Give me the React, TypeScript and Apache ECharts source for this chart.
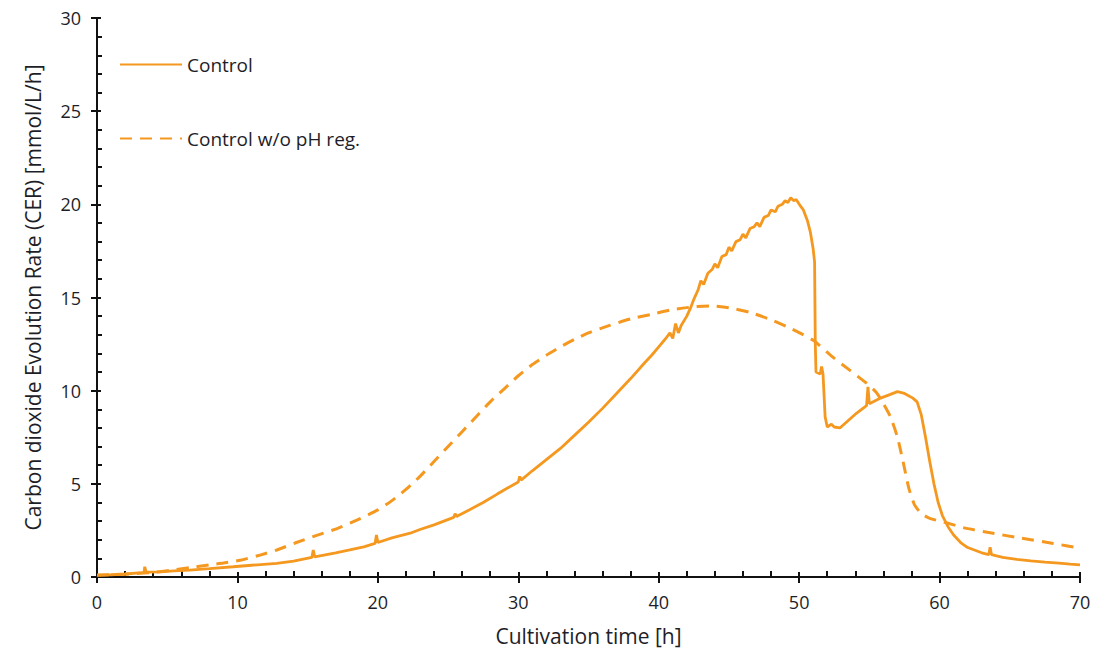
import React, { useEffect, useRef } from "react";
import * as echarts from "echarts";

const xTicks = [0, 10, 20, 30, 40, 50, 60, 70];
const yTicks = [0, 5, 10, 15, 20, 25, 30];

const controlName = "Control";
const noPhName = "Control w/o pH reg.";

// Control (solid) [time h, CER]
const controlData: [number, number][] = [
  [0, 0.1], [1, 0.12], [2, 0.16], [3, 0.22], [3.35, 0.24], [3.4, 0.55], [3.5, 0.26],
  [4.5, 0.28], [5.5, 0.33], [6.6, 0.37], [8, 0.45], [9.7, 0.55], [11, 0.63], [12.8, 0.73],
  [14, 0.85], [15.3, 1.05], [15.4, 1.45], [15.5, 1.08], [17, 1.3], [18, 1.45], [19, 1.62],
  [19.8, 1.8], [19.9, 2.25], [20, 1.85], [21, 2.1], [22.3, 2.35], [23, 2.55], [24, 2.8],
  [25.4, 3.2], [25.5, 3.4], [25.6, 3.25], [26.5, 3.6], [27.5, 4.0], [28.5, 4.45], [29.3, 4.8],
  [30, 5.1], [30.1, 5.4], [30.2, 5.2], [31, 5.7], [32, 6.3], [33, 6.9], [34, 7.6], [35, 8.3],
  [36, 9.05], [37, 9.85], [38, 10.65], [39, 11.5], [39.5, 11.9], [40, 12.35], [40.5, 12.8],
  [40.8, 13.1], [41.0, 12.8], [41.2, 13.6], [41.4, 13.1], [41.6, 13.5], [42, 14.0], [42.3, 14.5],
  [42.5, 14.9], [42.8, 15.4], [43, 15.9], [43.2, 15.7], [43.5, 16.3], [43.8, 16.5], [44, 16.8],
  [44.2, 16.6], [44.5, 17.2], [44.8, 17.3], [45, 17.7], [45.2, 17.5], [45.5, 18.0], [45.8, 18.1],
  [46, 18.4], [46.2, 18.2], [46.5, 18.7], [46.8, 18.8], [47, 19.0], [47.2, 18.8], [47.5, 19.3],
  [47.8, 19.4], [48, 19.7], [48.3, 19.6], [48.5, 19.9], [48.8, 20.0], [49, 20.2], [49.2, 20.1],
  [49.4, 20.35], [49.6, 20.2], [49.8, 20.25], [50.1, 19.9], [50.3, 19.7], [50.6, 19.1],
  [50.8, 18.5], [51.0, 17.6], [51.1, 16.9], [51.15, 12.5], [51.2, 11.0], [51.5, 10.9],
  [51.6, 11.3], [51.7, 10.9], [51.85, 8.6], [52, 8.05], [52.3, 8.2], [52.5, 8.05], [52.9, 8.0],
  [53.5, 8.4], [54.1, 8.8], [54.8, 9.2], [54.9, 10.2], [55.0, 9.3], [55.8, 9.6], [56.5, 9.8],
  [57, 9.95], [57.5, 9.85], [58.1, 9.6], [58.4, 9.4], [58.7, 8.7], [59.0, 7.5], [59.3, 6.2],
  [59.6, 5.0], [59.9, 4.0], [60.2, 3.3], [60.6, 2.7], [61, 2.25], [61.5, 1.85], [62, 1.58],
  [63, 1.3], [63.5, 1.2], [63.6, 1.6], [63.7, 1.2], [64.5, 1.05], [65.5, 0.95], [66.5, 0.87],
  [67.5, 0.8], [68.5, 0.74], [69.3, 0.69], [70, 0.65],
];

// Control w/o pH regulation (dashed)
const noPhData: [number, number][] = [
  [0, 0.1], [2, 0.15], [4, 0.25], [5.5, 0.38], [6.6, 0.5], [8, 0.65], [9, 0.75], [10.2, 0.9],
  [11.5, 1.15], [12.8, 1.45], [14.2, 1.85], [15.7, 2.25], [17.1, 2.6], [18.5, 3.05], [20, 3.6],
  [21, 4.1], [22, 4.7], [23, 5.4], [24, 6.2], [25, 7.0], [26, 7.8], [27, 8.6], [28, 9.4],
  [29, 10.1], [30, 10.8], [31, 11.4], [32, 11.9], [33, 12.35], [34, 12.75], [35, 13.1],
  [36.5, 13.5], [38, 13.85], [39.5, 14.1], [41, 14.35], [42.5, 14.5], [43.7, 14.55],
  [45, 14.45], [46.5, 14.2], [48, 13.8], [49.5, 13.3], [51, 12.7], [52.4, 11.8], [53.6, 11.1],
  [54.8, 10.4], [55.5, 9.9], [56, 9.3], [56.5, 8.6], [57, 7.5], [57.4, 6.2], [57.8, 4.8],
  [58.2, 3.9], [58.7, 3.4], [59.3, 3.15], [60.3, 2.95], [61.7, 2.65], [63.4, 2.4],
  [65.7, 2.1], [68.1, 1.8], [70, 1.55],
];

const ORANGE = "#F5981F";
const FONT = "Open Sans";
const TEXT = "#1e1e28";

export default function App() {
  const ref = useRef<HTMLDivElement>(null);
  useEffect(() => {
    if (!ref.current) return;
    const chart = echarts.init(ref.current, undefined, { renderer: "svg" });
    const xMin = xTicks[0];
    const xMax = xTicks[xTicks.length - 1];
    const yMin = yTicks[0];
    const yMax = yTicks[yTicks.length - 1];
    const xInt = xTicks[1] - xTicks[0];
    const yInt = yTicks[1] - yTicks[0];
    const axisLine = { show: true, lineStyle: { color: "#111", width: 2 } };
    const legendBase = {
      left: 114,
      itemWidth: 62,
      itemHeight: 16,
      itemGap: 8,
      itemStyle: { opacity: 0 },
      textStyle: { fontSize: 19, color: TEXT, fontFamily: FONT },
    };
    chart.setOption({
      animation: false,
      backgroundColor: "#fff",
      textStyle: { fontFamily: FONT },
      grid: { left: 97, right: 22, top: 18, bottom: 82, containLabel: false },
      legend: [
        { ...legendBase, data: [controlName], top: 50 },
        { ...legendBase, data: [noPhName], top: 124 },
      ],
      xAxis: [
        {
          type: "value",
          min: xMin,
          max: xMax,
          interval: xInt,
          name: "Cultivation time [h]",
          nameLocation: "middle",
          nameGap: 48,
          nameTextStyle: { fontSize: 21, color: TEXT, fontFamily: FONT },
          axisLine,
          axisTick: { show: true, inside: false, length: 6, lineStyle: { color: "#111", width: 2 } },
          axisLabel: { fontSize: 18, color: TEXT, margin: 16, fontFamily: FONT },
          splitLine: { show: false },
        },
        {
          type: "value",
          position: "bottom",
          min: xMin,
          max: xMax,
          interval: xInt,
          axisLine: { show: false },
          axisTick: { show: true, inside: true, length: 5, lineStyle: { color: "#111", width: 2 } },
          minorTick: { show: true, splitNumber: 5, length: 6, lineStyle: { color: "#111", width: 2 } },
          axisLabel: { show: false },
          splitLine: { show: false },
        },
      ],
      yAxis: [
        {
          type: "value",
          min: yMin,
          max: yMax,
          interval: yInt,
          name: "Carbon dioxide Evolution Rate (CER) [mmol/L/h]",
          nameLocation: "middle",
          nameGap: 54,
          nameTextStyle: { fontSize: 21, color: TEXT, fontFamily: FONT },
          axisLine,
          axisTick: { show: true, inside: false, length: 6, lineStyle: { color: "#111", width: 2 } },
          axisLabel: { fontSize: 18, color: TEXT, margin: 16, fontFamily: FONT },
          splitLine: { show: false },
        },
        {
          type: "value",
          position: "left",
          min: yMin,
          max: yMax,
          interval: yInt,
          axisLine: { show: false },
          axisTick: { show: true, inside: true, length: 4, lineStyle: { color: "#111", width: 2 } },
          minorTick: { show: true, splitNumber: 5, length: 5, lineStyle: { color: "#111", width: 2 } },
          axisLabel: { show: false },
          splitLine: { show: false },
        },
      ],
      series: [
        {
          name: controlName,
          type: "line",
          data: controlData,
          symbol: "none",
          lineStyle: { color: ORANGE, width: 2.8, type: "solid" },
          itemStyle: { color: ORANGE },
          z: 3,
        },
        {
          name: noPhName,
          type: "line",
          data: noPhData,
          symbol: "none",
          smooth: 0.2,
          lineStyle: { color: ORANGE, width: 3, type: [12, 8] },
          itemStyle: { color: ORANGE },
          z: 2,
        },
      ],
    });
    return () => chart.dispose();
  }, []);
  return <div ref={ref} style={{ width: 1102, height: 659, position: "absolute", left: 0, top: 0 }} />;
}
